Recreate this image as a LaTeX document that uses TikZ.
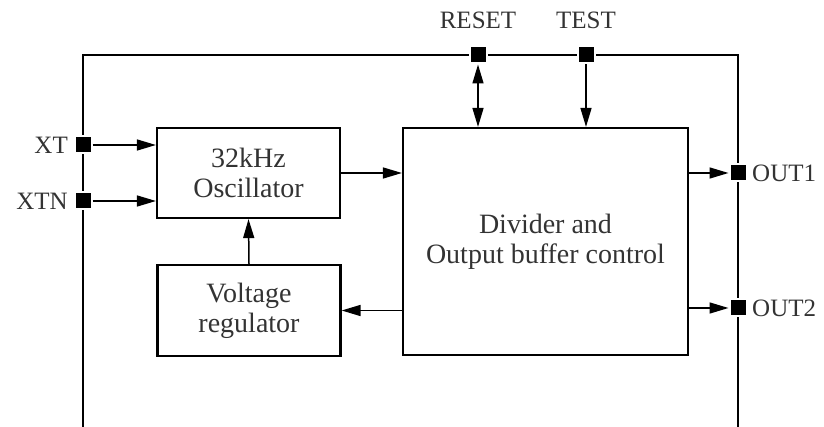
\documentclass[tikz,border=0pt]{standalone}
\usepackage{fontspec}
\setmainfont{Liberation Serif}
\usetikzlibrary{arrows.meta}
\begin{document}
\begin{tikzpicture}[x=1pt,y=-1pt,
  blk/.style={draw, line width=2.2pt, rectangle, inner sep=0pt, align=center,
    font=\fontsize{28}{30}\selectfont, text=black!80},
  pin/.style={draw=white, line width=2pt, fill=black, minimum size=17pt, inner sep=0pt},
  lbl/.style={font=\fontsize{25}{28}\selectfont, text=black!80, inner sep=0pt},
  frame/.style={line width=1.5pt},
  tip/.style={-{Triangle[length=19pt,width=11pt]}},
  sig/.style={line width=1.5pt, tip},
  bisig/.style={line width=1.5pt, {Triangle[length=19pt,width=11pt]}-{Triangle[length=19pt,width=11pt]}}]
\useasboundingbox (0,0) rectangle (824,427);
% frame
\coordinate (fbl) at (83,427);
\coordinate (ftl) at (83,55);
\coordinate (ftr) at (738,55);
\coordinate (fbr) at (738,427);
\draw[frame] (fbl) -- (ftl) -- (ftr) -- (fbr);
% blocks
\node[blk, minimum width=183pt, minimum height=90pt] (osc) at (248.5,173) {32kHz\\Oscillator};
\node[blk, minimum width=183pt, minimum height=91pt] (reg) at (249,310.5) {Voltage\\regulator};
\node[blk, minimum width=285pt, minimum height=227pt] (div) at (545.5,241.5) {Divider and\\Output buffer control};
% pins
\node[pin] (xt) at (83,145) {};
\node[pin] (xtn) at (83,201) {};
\node[pin] (rst) at (478,55) {};
\node[pin] (tst) at (586,55) {};
\node[pin] (o1) at (738,173) {};
\node[pin] (o2) at (738,308) {};
% labels
\node[lbl, anchor=east] (lxt) at (68,145) {XT};
\node[lbl, anchor=east] (lxtn) at (68,201) {XTN};
\node[lbl] (lrst) at (478,20) {RESET};
\node[lbl] (ltst) at (586,20) {TEST};
\node[lbl, anchor=west] (lo1) at (752,173) {OUT1};
\node[lbl, anchor=west] (lo2) at (752,308) {OUT2};
% connectors
\draw[sig] (xt.east) -- (xt.east -| osc.west);
\draw[sig] (xtn.east) -- (xtn.east -| osc.west);
\draw[sig] (osc.east) -- (osc.east -| div.west);
\draw[sig] (reg.north) -- (osc.south);
\draw[sig] (div.west |- reg.east) -- (reg.east);
\draw[bisig] (rst.south) -- (rst.south |- div.north);
\draw[sig] (tst.south) -- (tst.south |- div.north);
\draw[sig] (o1.west -| div.east) -- (o1.west);
\draw[sig] (o2.west -| div.east) -- (o2.west);
\end{tikzpicture}
\end{document}
